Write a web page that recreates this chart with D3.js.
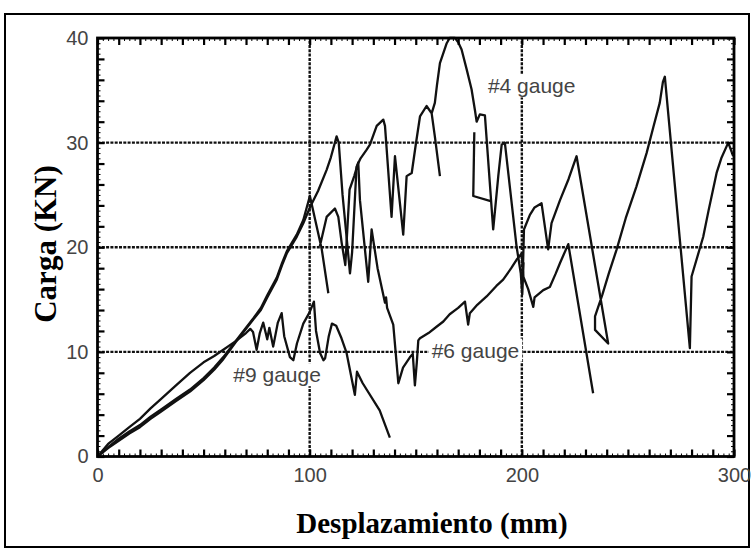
<!DOCTYPE html>
<html><head><meta charset="utf-8">
<script src="https://cdn.jsdelivr.net/npm/d3@7"></script>
<style>body{margin:0;background:#fff}svg{display:block}</style>
</head><body>
<svg id="c" width="753" height="551"></svg>
<script>
// ---- data (displacement mm, load kN); null = break in trace ----
const xTickLabels = [0, 100, 200, 300];
const yTickLabels = [0, 10, 20, 30, 40];
const xGrid = [100, 200];
const yGrid = [10, 20, 30];
const seriesNames = ["#4 gauge", "#6 gauge", "#9 gauge"];

const gauge4 = [[0,0],[5,0.8],[10,1.5],[15,2.2],[20,2.8],[25,3.6],[30,4.3],[37,5.3],[43.6,6.2],[50,7.3],[55,8.3],[59.3,9.3],[65,10.9],[70,12.2],[73.4,13.1],[77,14],[80,15.2],[84.5,16.9],[87,18.3],[89.2,19.4],[93.9,21],[97,22.3],[100.1,23.8],[104,25.4],[108,27.4],[110,28.6],[112.7,30.6],[113.7,30],[115.5,25],[117.4,21],[119,17.5],[120,19.5],[122.1,27.7],[124,28.5],[126.8,29.3],[128.4,29.8],[131.6,31.6],[134.7,32.2],[135.5,31.6],[138.6,22.9],[140.2,28.7],[144.1,21.2],[145.7,26.8],[148.1,27.1],[150,29.8],[152,32.5],[155.1,33.5],[157.5,32.8],[159,33.8],[160,35.5],[161.4,37.6],[164.6,39.5],[166,40],[168.5,40],[170,39.6],[171.6,38.9],[174,37],[176.3,35.1],[177.9,33.1],[178.7,32],[180.2,32.7],[182.6,32.6],[186.5,21.7],[188.9,26.8],[190.5,29.8],[192,30],[197.5,20.1],[199.5,17.5],[200.2,15.5],[200.8,18.5],[200.3,16.2],[201,21.7],[203.8,23.1],[206,23.8],[209.3,24.2],[212.4,19.8],[214,22.3],[218,24.5],[222,26.5],[225.8,28.7],[240.7,10.8],[234.5,12.1],[234.5,13.4],[238,15.5],[241,17.5],[244.7,19.8],[249,22.8],[254,25.8],[258.8,29],[262,31.5],[265,33.8],[266.5,35.8],[267.4,36.3],[279.2,10.35],[280,17.2],[285.5,21],[288,23.5],[291.8,27.1],[294,28.5],[297.3,30],[299.6,28.7],
  null,[157.5,32.8],[159,30.6],[161.4,26.8],
  null,[177.6,31],[177.1,24.9],[185.3,24.4]];

const gauge6 = [[0,0],[5,0.9],[10,1.7],[15,2.4],[20,3],[25,3.8],[30,4.5],[37,5.5],[43.6,6.4],[50,7.5],[55,8.5],[59.3,9.5],[65,11],[70,12.3],[73.4,13.2],[77,14.2],[80,15.4],[84.5,17.1],[87,18.5],[89.2,19.6],[93.9,21.2],[97,22.6],[100.1,24.9],[105.7,19.8],[108.8,15.6],
  null,[104.8,20.1],[108,22.9],[111.9,23.7],[113.5,22.9],[115.1,20.4],[116.8,18.3],[118.8,25.5],[121,26.8],[122.9,28.1],[123.7,24.5],[127.6,16.7],[129.2,21.7],[132,18],[135.5,14.7],[136,15.2],[136.5,14.2],[139.4,12.6],[141.8,7],[144,8.5],[147.3,9.5],[148.6,9.8],[149.6,6.8],[150.5,9],[151.2,11.1],[152,11.3],[156,11.8],[159.8,12.4],[163,12.9],[166,13.6],[170,14.2],[173.2,14.8],[174.7,12.6],[175.5,13.7],[179,14.5],[183.4,15.3],[188,16.3],[191.2,16.9],[195,18],[197.5,18.8],[199.9,19.4],[200.7,17.2],[203,16],[205.4,14.3],[206,15.2],[210.1,15.9],[213.2,16.2],[216,17.5],[218,18.5],[221.9,20.3],[233.6,6.05]];

const gauge9 = [[0,0],[5,1.2],[10,2],[15,2.8],[20,3.6],[25,4.6],[30,5.5],[37,6.8],[43.6,8],[50,9],[55,9.6],[59.3,10.2],[65,11],[70,11.8],[72,12.2],[73.3,11.9],[75,10.2],[76.5,11.8],[78.1,12.8],[80,11.2],[81,12.3],[82.8,10.5],[85,12.8],[86.8,13.7],[88,11.5],[90.7,9.5],[92.3,9.2],[94,10.8],[97,12.7],[100,13.8],[102,14.8],[103,12],[104.9,9.9],[106.5,9.2],[107.3,9.4],[109,11.5],[110.5,12.7],[112.5,12.5],[115,11.3],[117.4,9.9],[121.3,5.9],[122.3,8.1],[125,7],[133,4.4],[137.8,1.8]];

const labelPos = [[184, 34.7], [157.5, 9.45], [64, 7.1]]; // label anchor (left, baseline) in data units

// ---- drawing ----
const svg = d3.select("#c");
const W = 753, H = 551;
const m = {l: 97.5, r: 734, t: 38, b: 456.5};
const x = d3.scaleLinear().domain([0, 300]).range([m.l, m.r]);
const y = d3.scaleLinear().domain([0, 40]).range([m.b, m.t]);

svg.append("rect").attr("x", 0).attr("y", 0).attr("width", W).attr("height", H).attr("fill", "#fff");
svg.append("rect").attr("x", 5).attr("y", 14).attr("width", 744).attr("height", 533)
  .attr("fill", "none").attr("stroke", "#000").attr("stroke-width", 2);

// grid
const grid = svg.append("g").attr("stroke", "#111").attr("stroke-width", 2.4).attr("stroke-dasharray", "3,1.3");
xGrid.forEach(v => grid.append("line").attr("x1", x(v)).attr("x2", x(v)).attr("y1", y(0)).attr("y2", y(40)));
yGrid.forEach(v => grid.append("line").attr("y1", y(v)).attr("y2", y(v)).attr("x1", x(0)).attr("x2", x(300)));

// data lines
const line = d3.line().defined(d => d !== null).x(d => x(d[0])).y(d => y(d[1]));
[gauge4, gauge6, gauge9].forEach(s => {
  svg.append("path").datum(s).attr("d", line).attr("fill", "none")
    .attr("stroke", "#111").attr("stroke-width", 2.3).attr("stroke-linejoin", "round");
});

// labels with white background
seriesNames.forEach((n, i) => {
  const g = svg.append("g");
  const t = g.append("text").attr("x", x(labelPos[i][0])).attr("y", y(labelPos[i][1]))
    .attr("font-family", "Liberation Sans, Arial, sans-serif").attr("font-size", 21).attr("fill", "#444").text(n);
  const bb = t.node().getBBox();
  g.insert("rect", "text").attr("x", bb.x - 3).attr("y", bb.y).attr("width", bb.width + 6).attr("height", bb.height).attr("fill", "#fff");
});

// axes
const minorX = d3.range(0, 301, 10), minorY = d3.range(0, 41, 2);
const fineX = d3.range(0, 301, 2.5), fineY = d3.range(0, 40.1, 0.5);
function ax(gen, tr, vals, size, sw) {
  svg.append("g").attr("transform", tr)
    .call(gen.tickValues(vals).tickSize(size).tickFormat("").tickSizeOuter(0))
    .call(g => g.select(".domain").remove())
    .call(g => g.selectAll("line").attr("stroke", "#000").attr("stroke-width", sw));
}
ax(d3.axisBottom(x), `translate(0,${m.b})`, minorX, -7, 2.2);
ax(d3.axisTop(x), `translate(0,${m.t})`, minorX, -7, 2.2);
ax(d3.axisLeft(y), `translate(${m.l},0)`, minorY, -7, 2.2);
ax(d3.axisRight(y), `translate(${m.r},0)`, minorY, -7, 2.2);
ax(d3.axisBottom(x), `translate(0,${m.b})`, fineX, -3, 1);
ax(d3.axisTop(x), `translate(0,${m.t})`, fineX, -3, 1);
ax(d3.axisLeft(y), `translate(${m.l},0)`, fineY, -3, 1);
ax(d3.axisRight(y), `translate(${m.r},0)`, fineY, -3, 1);

svg.append("rect").attr("x", m.l).attr("y", m.t).attr("width", m.r - m.l).attr("height", m.b - m.t)
  .attr("fill", "none").attr("stroke", "#000").attr("stroke-width", 2.8);

// tick labels
svg.append("g").attr("transform", `translate(0,${m.b})`)
  .call(d3.axisBottom(x).tickValues(xTickLabels).tickSize(0).tickPadding(11).tickFormat(d3.format("d")))
  .call(g => g.select(".domain").remove())
  .call(g => g.selectAll("text").attr("font-family", "Liberation Sans, Arial, sans-serif").attr("font-size", 20).attr("fill", "#444"));
svg.append("g").attr("transform", `translate(${m.l},0)`)
  .call(d3.axisLeft(y).tickValues(yTickLabels).tickSize(0).tickPadding(9).tickFormat(d3.format("d")))
  .call(g => g.select(".domain").remove())
  .call(g => g.selectAll("text").attr("font-family", "Liberation Sans, Arial, sans-serif").attr("font-size", 20).attr("fill", "#444"));

// titles
svg.append("text").attr("x", 432).attr("y", 533).attr("text-anchor", "middle")
  .attr("font-family", "Liberation Serif, Times New Roman, serif").attr("font-weight", "bold").attr("font-size", 29)
  .text("Desplazamiento (mm)");
svg.append("text").attr("transform", "translate(56,244) rotate(-90)").attr("text-anchor", "middle")
  .attr("font-family", "Liberation Serif, Times New Roman, serif").attr("font-weight", "bold").attr("font-size", 31)
  .text("Carga (KN)");
</script>
</body></html>
